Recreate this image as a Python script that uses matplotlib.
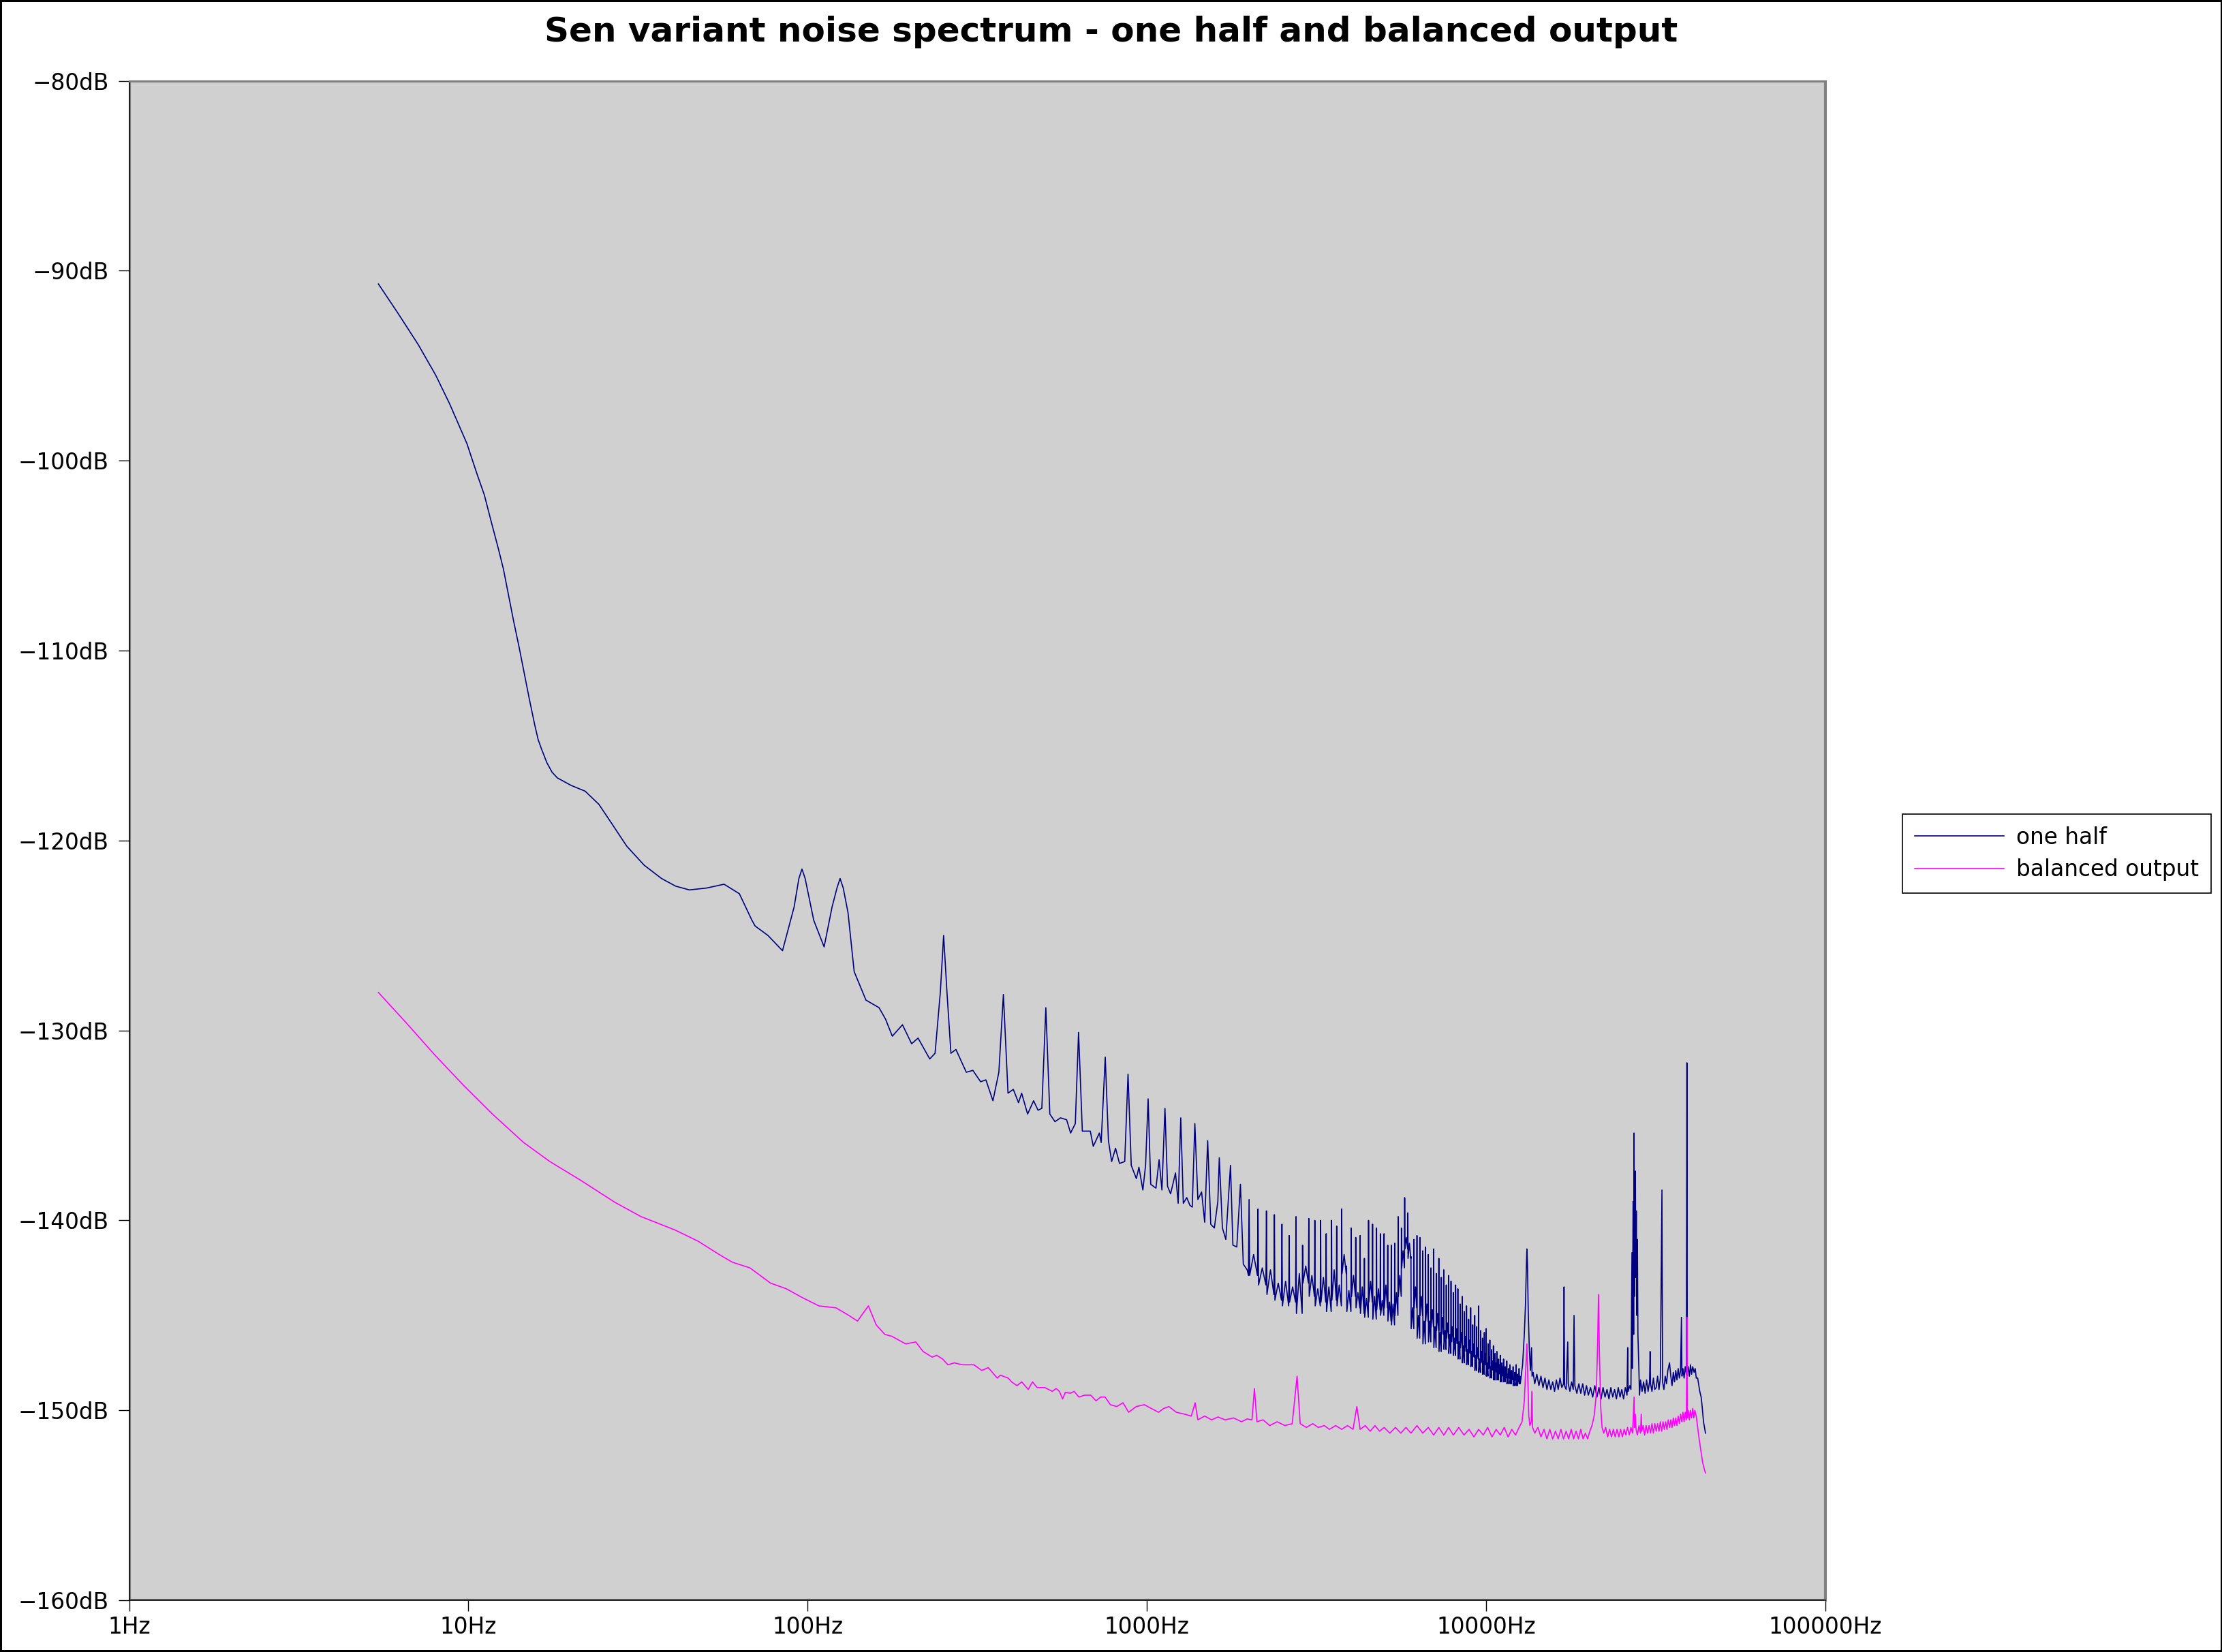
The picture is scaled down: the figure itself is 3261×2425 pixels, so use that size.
import matplotlib
matplotlib.use("Agg")
import matplotlib.pyplot as plt
from matplotlib.patches import Rectangle
from matplotlib.ticker import FixedLocator, NullLocator

# ---- one half: low part (Hz, dB)
half_low_f = [5.43, 6.18, 7.12, 8.01, 8.80, 9.90, 10.6, 11.14, 11.67, 12.24, 12.68, 13.14, 13.61, 14.1,
              14.61, 15.14, 15.68, 16.06, 16.44, 17.03, 17.64, 18.28,
              20.09, 22.08, 24.26, 26.67, 29.3, 32.97, 37.1, 40.8, 44.8, 50.4, 56.7, 62.9, 68.5, 70.0,
              76.4, 84.3, 91.2, 94.2, 96.2, 98.3, 104.2, 111.8, 118.0, 122.0, 124.6, 127.3, 131.5,
              137.1, 148.5, 162.3, 169.6,
              177.6, 190.3, 202.5, 211.5, 229, 237.4, 246, 251.6, 257.4, 264.4, 273.5, 293.5, 306.7,
              323.5, 335.2, 351.6, 366, 377.5, 389.5, 403.7, 418.3, 427.2, 444.9, 463.4, 477.5, 490,
              503.5, 517.3, 535.8, 556, 579.7, 595.7, 615, 628.7, 645, 680.8, 694.7, 724, 733, 753.5,
              770, 787, 808, 830, 860, 879.5, 898.9, 930.6, 947, 972.7, 990.8, 1008, 1026, 1063, 1086,
              1107, 1130, 1150, 1174, 1214, 1236, 1258, 1280, 1310, 1338, 1360, 1384, 1413, 1449, 1480,
              1510, 1542, 1580, 1618, 1634, 1669, 1708, 1763, 1792, 1840, 1886, 1923, 1974]
half_low_db = [-90.7, -92.2, -93.9, -95.5, -97.0, -99.1, -100.7, -101.8, -103.2, -104.6, -105.7,
               -107.1, -108.5, -109.8, -111.2, -112.6, -113.9, -114.7, -115.2, -115.9, -116.4, -116.7,
               -117.1, -117.4, -118.1, -119.2, -120.3, -121.3, -122.0, -122.4, -122.6,
               -122.5, -122.3, -122.8, -124.2, -124.5, -125.0, -125.8, -123.5, -122.0, -121.5, -122.0,
               -124.2, -125.6, -123.5, -122.5, -122.0, -122.5, -123.8, -126.9, -128.4, -128.8, -129.4,
               -130.3, -129.7, -130.7, -130.4,
               -131.5, -131.2, -128.0, -125.0, -128.0, -131.2, -131.0, -132.2, -132.1, -132.7, -132.6,
               -133.7, -132.2, -128.1, -133.3, -133.1, -133.8, -133.3, -134.4, -133.7, -134.2, -134.1,
               -128.8, -134.4, -134.8, -134.6, -134.7, -135.4, -134.9, -130.1, -135.3, -135.3, -136.1,
               -135.4, -135.9, -131.4, -135.8, -136.9, -136.2, -137.0, -136.9, -132.3, -137.1, -137.8,
               -137.2, -138.4, -137.1, -133.6, -138.1, -138.3, -136.8, -138.4, -134.1, -138.2, -138.6,
               -137.5, -139.1, -134.6, -139.1, -138.8, -139.2, -139.3, -134.9, -138.9, -138.5, -140.1,
               -135.8, -140.2, -140.4, -139.0, -136.7, -140.4, -141.0, -137.1, -141.3, -141.4, -138.1,
               -142.3, -142.6]

# ---- one half: 125 Hz harmonics from 2 kHz to 12.5 kHz
# peak top, floor right after the peak, and the level half way to the next peak
harm_k = list(range(16, 101))
harm_top = [-138.9, -139.4, -139.5, -139.7, -140.2, -140.8, -139.8, -141.3, -139.9, -140.0,
            -140.0, -140.7, -140.0, -140.3, -139.4, -142.4, -140.4, -140.9, -140.8, -142.0,
            -140.0, -140.2, -140.4, -140.7, -140.7, -141.3, -141.3, -141.2, -139.8, -140.4,
            -138.8, -139.6,
            -141.9, -141.0, -140.8, -140.9, -141.6, -141.4, -141.8, -142.5, -141.5, -142.8,
            -142.0, -143.0, -142.6, -143.4, -142.9, -143.2, -143.8, -143.4, -143.6, -144.4,
            -144.0, -144.8, -144.5, -145.2, -144.6, -145.5, -145.0, -145.6, -144.5, -145.8,
            -146.2, -145.9, -145.7, -146.5, -146.3, -146.8, -146.6, -147.0, -146.9, -147.3,
            -147.1, -147.5, -147.3, -147.7, -147.4, -147.8, -147.6, -147.9, -147.7, -148.0,
            -147.6, -148.1, -147.8]
harm_floor = [-142.9, -143.4, -143.9, -144.2, -144.5, -144.3, -144.9, -143.3, -144.0, -144.5,
              -144.3, -144.8, -144.2, -144.5, -142.8, -144.8, -144.0, -144.6, -144.9, -145.1,
              -144.3, -145.2, -144.7, -145.0, -144.6, -145.3, -145.5, -145.0, -144.0, -142.5,
              -141.5, -142.0,
              -145.7, -144.6, -146.2, -145.0, -146.5, -145.3, -146.4, -145.6, -146.7, -145.8,
              -146.9, -146.0, -146.8, -146.2, -147.0, -146.4, -147.1, -146.5, -147.3, -146.7,
              -147.5, -146.9, -147.6, -147.0, -147.7, -147.2, -147.9, -147.3, -148.0, -147.5,
              -148.1, -147.6, -148.2, -147.8, -148.3, -147.9, -148.4, -148.0, -148.4, -148.1,
              -148.5, -148.2, -148.5, -148.3, -148.6, -148.3, -148.6, -148.4, -148.7, -148.4,
              -148.7, -148.5, -148.6]
harm_mid = [-141.8, -142.5, -142.6, -143.3, -143.2, -143.5, -142.8, -142.4, -142.9, -143.6,
            -143.0, -143.5, -142.6, -143.4, -141.8, -143.7, -142.9, -143.8, -143.5, -144.1,
            -143.2, -144.0, -143.6, -144.2, -143.4, -144.3, -144.4, -143.8, -142.9, -141.6,
            -140.9, -141.2,
            -144.6, -143.5, -145.0, -144.0, -145.3, -144.4, -145.3, -144.7, -145.6, -144.9,
            -145.9, -145.1, -145.8, -145.4, -146.0, -145.6, -146.2, -145.7, -146.4, -145.9,
            -146.6, -146.1, -146.8, -146.3, -146.9, -146.5, -147.1, -146.7, -147.3, -146.9,
            -147.4, -147.0, -147.5, -147.2, -147.7, -147.4, -147.8, -147.5, -147.9, -147.6,
            -148.0, -147.7, -148.0, -147.8, -148.1, -147.9, -148.2, -148.0, -148.3, -148.0,
            -148.3, -148.1, -148.2]
harm_base = 125.0
harm_halfwidth = 8.0

# ---- one half: 12.6 kHz to the end
half_high_f = [12600, 12800, 12950, 13050, 13130, 13180, 13230, 13300, 13400, 13500, 13600, 13650,
               13750, 13900, 14100, 14300, 14500, 14700, 14900, 15100, 15300, 15500, 15700, 15900,
               16100, 16300, 16500, 16700, 16900, 16960, 17020, 17200, 17390, 17450, 17650, 17850,
               18050, 18150, 18250, 18500, 18750, 19000, 19250, 19500, 19750, 20000, 20300, 20600,
               20900, 21200, 21500, 21800, 22100, 22400, 22700, 23000, 23300, 23600, 23900, 24200,
               24500, 24800, 25100, 25400, 25700, 26000, 26120, 26200, 26500, 26700, 26890, 26950,
               27100, 27200, 27280, 27350, 27450, 27520, 27600, 27700, 27800, 27900, 28000, 28190,
               28300, 28500, 28800, 29100, 29400, 29700, 30000, 30300, 30410, 30500, 30800, 31100,
               31400, 31700, 32000, 32300, 32600, 32960, 33100, 33400, 33700, 34000, 34300, 34700,
               35000, 35300, 35600, 35900, 36200, 36500, 36800, 37100, 37400, 37620, 37750, 38000,
               38300, 38600, 38900, 39040, 39150, 39400, 39700, 40000, 40300, 40600, 41000, 41300,
               41600, 42000, 42600, 43000, 43300, 43700, 44100, 44290]
half_high_db = [-148.6, -147.6, -146.0, -144.5, -142.5, -141.5, -142.3, -144.8, -146.8, -147.9,
                -146.7, -148.2, -148.0, -148.6, -148.1, -148.7, -148.2, -148.8, -148.3, -148.9,
                -148.4, -148.9, -148.5, -149.0, -148.4, -148.9, -148.3, -148.8, -148.6, -143.5,
                -148.7, -148.9, -146.4, -148.6, -149.0, -148.5, -148.9, -145.0, -148.7, -149.1,
                -148.6, -149.1, -148.6, -149.2, -148.7, -149.2, -148.8, -149.3, -148.7, -149.3,
                -148.8, -149.4, -148.8, -149.3, -148.9, -149.4, -148.8, -149.3, -148.9, -149.4,
                -148.8, -149.3, -148.9, -149.4, -148.8, -149.2, -146.7, -149.0, -148.7, -148.9,
                -141.7, -147.8, -139.0, -146.0, -135.4, -144.0, -138.5, -137.4, -143.0, -139.5,
                -145.0, -141.0, -146.0, -147.9, -149.2, -148.4, -149.0, -148.5, -149.1, -148.4,
                -149.0, -148.5, -146.9, -148.6, -149.0, -148.3, -148.9, -148.8, -148.2, -148.9,
                -148.3, -138.4, -148.5, -148.9, -148.2, -148.6, -147.9, -147.5, -148.2, -148.7,
                -148.0, -148.5, -147.9, -148.4, -147.8, -148.3, -147.9, -145.1, -148.2, -147.8,
                -148.3, -147.7, -148.1, -131.7, -148.0, -147.7, -148.2, -147.6, -148.1, -147.7,
                -148.0, -147.8, -148.3, -148.3, -149.0, -149.3, -149.8, -150.6, -151.0, -151.2]

# ---- balanced output
bal_f = [5.43, 6.56, 7.97, 9.69, 11.77, 14.55, 17.38, 21.48, 27.04, 32.27, 40.6, 47.6, 54.9, 59.96,
         67.6, 77.7, 86.5, 96.1, 107.9, 121.1, 132.2, 140.2, 151, 159.2, 168.8, 177, 194.4, 208.3,
         218.8, 232.8, 240, 250, 259, 270.5, 285.7, 309, 326, 340.6, 362, 370, 390, 399, 414, 427.5,
         446.7, 460, 474.4, 500, 526, 540, 552, 564, 575, 595, 610, 630, 655, 683, 708, 730, 753,
         780, 815, 850, 883, 930, 982, 1030, 1082, 1120, 1161, 1220, 1290, 1351, 1387, 1413, 1480,
         1550, 1620, 1700, 1800, 1900, 1974, 2040, 2074, 2110, 2200, 2300, 2420, 2550, 2680, 2770,
         2830, 2950, 3080, 3200, 3330, 3450, 3600, 3750, 3900, 4050, 4156, 4250, 4400, 4550, 4700,
         4850, 5000, 5200, 5400, 5600, 5800, 6000, 6250, 6500, 6750, 7000, 7250, 7500, 7750, 8000,
         8300, 8600, 8900, 9200, 9500, 9800, 10100, 10400, 10700, 11000, 11300, 11600, 11900,
         12200, 12500, 12750, 12950, 13080, 13180, 13260, 13350, 13450, 13580, 13630, 13700, 13900,
         14200, 14500, 14800, 15100, 15400, 15700, 16000, 16300, 16600, 16900, 17200, 17500, 17800,
         18100, 18400, 18700, 19000, 19300, 19600, 19900, 20200, 20500, 20800, 21100, 21300, 21430,
         21550, 21750, 21950, 22200, 22500, 22800, 23100, 23400, 23700, 24000, 24300, 24600, 24900,
         25200, 25500, 25800, 26100, 26400, 26700, 27000, 27280, 27350, 27500, 27650, 27900, 28200,
         28500, 28640, 28750, 29000, 29300, 29600, 29900, 30200, 30500, 30800, 31100, 31400, 31700,
         32000, 32300, 32600, 32900, 33200, 33500, 33800, 34100, 34400, 34700, 35000, 35300, 35600,
         35900, 36200, 36500, 36800, 37100, 37400, 37700, 38000, 38300, 38600, 38900, 39040, 39150,
         39400, 39700, 40000, 40300, 40600, 40900, 41200, 41600, 42000, 42500, 43000, 43400, 43800,
         44100, 44290]
bal_db = [-128.0, -129.6, -131.3, -132.9, -134.4, -135.9, -136.9, -137.9, -139.05, -139.8, -140.5,
          -141.1, -141.8, -142.2, -142.5, -143.3, -143.6, -144.05, -144.5, -144.6, -145.0, -145.3,
          -144.5, -145.5, -146.0, -146.1, -146.5, -146.4, -146.9, -147.2, -147.1, -147.3, -147.6,
          -147.5, -147.6, -147.6, -147.9, -147.75, -148.3, -148.15, -148.3, -148.5, -148.7, -148.5,
          -148.9, -148.5, -148.8, -148.8, -149.0, -148.85, -149.0, -149.4, -149.05, -149.1, -149.0,
          -149.3, -149.2, -149.2, -149.5, -149.3, -149.3, -149.7, -149.8, -149.6, -150.1, -149.8,
          -149.7, -149.9, -150.1, -149.9, -149.8, -150.1, -150.2, -150.3, -149.6, -150.5, -150.3,
          -150.5, -150.35, -150.5, -150.4, -150.6, -150.45, -150.5, -148.85, -150.6, -150.5, -150.8,
          -150.6, -150.8, -150.7, -148.2, -150.7, -150.9, -150.7, -150.9, -150.8, -151.0, -150.8,
          -151.0, -150.8, -151.0, -149.8, -151.0, -150.8, -151.1, -150.8, -151.1, -150.9, -151.2,
          -150.9, -151.2, -150.9, -151.2, -150.8, -151.2, -150.9, -151.3, -150.9, -151.3, -150.9,
          -151.3, -150.9, -151.3, -151.0, -151.4, -151.0, -151.3, -150.9, -151.4, -151.0, -151.3,
          -150.9, -151.4, -151.0, -151.3, -150.9, -150.6, -149.5, -147.8, -146.5, -148.3, -150.3,
          -150.8, -150.6, -149.0, -150.9, -151.2, -150.9, -151.4, -151.0, -151.5, -151.0, -151.5,
          -151.1, -151.5, -151.0, -151.5, -151.1, -151.5, -151.0, -151.5, -151.1, -151.5, -151.0,
          -151.5, -151.2, -151.5, -151.1, -150.8, -150.3, -149.2, -146.5, -143.9, -146.8, -149.8,
          -150.9, -151.2, -150.9, -151.4, -151.0, -151.4, -151.0, -151.4, -151.0, -151.4, -151.0,
          -151.4, -151.0, -151.3, -150.9, -151.3, -150.9, -151.2, -149.3, -150.9, -150.2, -151.0,
          -151.3, -150.8, -151.2, -150.2, -151.1, -150.8, -151.3, -150.8, -151.2, -150.8, -151.2,
          -150.7, -151.2, -150.7, -151.1, -150.7, -151.1, -150.6, -151.1, -150.6, -151.0, -150.6,
          -151.0, -150.5, -150.9, -150.5, -150.9, -150.4, -150.8, -150.4, -150.8, -150.3, -150.7,
          -150.2, -150.6, -150.1, -150.6, -150.1, -150.5, -145.1, -150.4, -150.0, -150.5, -150.0,
          -150.4, -149.9, -150.4, -150.0, -150.3, -150.9, -151.6, -152.2, -152.7, -153.0, -153.2,
          -153.3]

title = "Sen variant noise spectrum - one half and balanced output"
series_names = ["one half", "balanced output"]
xticks = [1, 10, 100, 1000, 10000, 100000]
xtick_labels = ["1Hz", "10Hz", "100Hz", "1000Hz", "10000Hz", "100000Hz"]
yticks = [-160, -150, -140, -130, -120, -110, -100, -90, -80]
ytick_labels = ["\u2212%ddB" % (-v) for v in yticks]

# put the harmonic peaks into the "one half" line
harm_f, harm_db = [], []
prev = harm_floor[0]
for k, top, fl, mid in zip(harm_k, harm_top, harm_floor, harm_mid):
    f0 = harm_base * k
    harm_f += [f0 - harm_halfwidth, f0, f0 + harm_halfwidth, f0 + harm_base / 2]
    harm_db += [prev, top, fl, mid]
    prev = fl

half_f = half_low_f + harm_f + half_high_f
half_db = half_low_db + harm_db + half_high_db

# figure
fig = plt.figure(figsize=(16.31, 12.125), dpi=200)
fig.patch.set_facecolor("white")
fig.patch.set_edgecolor("black")
fig.patch.set_linewidth(1.5)

ax = fig.add_axes([0.0581, 0.0313, 0.7632, 0.9198])
ax.set_facecolor("#d0d0d0")
ax.set_xscale("log")

ax.plot(half_f, half_db, color="#000080", lw=0.6, label=series_names[0], zorder=3)
ax.plot(bal_f, bal_db, color="#ff00ff", lw=0.6, label=series_names[1], zorder=3)

ax.set_xlim(1, 100000)
ax.set_ylim(-160, -80)
ax.xaxis.set_major_locator(FixedLocator(xticks))
ax.xaxis.set_minor_locator(NullLocator())
ax.set_xticklabels(xtick_labels)
ax.set_yticks(yticks)
ax.set_yticklabels(ytick_labels)
ax.tick_params(axis="both", direction="out", length=5.8, width=0.5, labelsize=11.8, colors="black")
ax.tick_params(axis="x", pad=2.5)
ax.tick_params(axis="y", pad=5)

# gray plot frame, black axis lines on left/bottom
frame = Rectangle((0, 0), 1, 1, transform=ax.transAxes, fill=False,
                  edgecolor="#808080", lw=1.5, zorder=1)
ax.add_patch(frame)
for side in ["top", "right"]:
    ax.spines[side].set_color("#808080")
    ax.spines[side].set_linewidth(1.1)
for side in ["left", "bottom"]:
    ax.spines[side].set_color("black")
    ax.spines[side].set_linewidth(0.6)

leg = ax.legend(loc="center left", bbox_to_anchor=(0.8559, 0.4833), bbox_transform=fig.transFigure,
                frameon=True, fancybox=False, shadow=False, edgecolor="black", framealpha=1,
                fontsize=11.8, handlelength=4.0, handletextpad=0.55, borderpad=0.55,
                labelspacing=0.45, borderaxespad=0)
leg.get_frame().set_linewidth(0.6)

fig.text(0.5, 0.9805, title, ha="center", va="center", fontsize=18, fontweight="bold")

fig.savefig("out.png", dpi=200, facecolor=fig.get_facecolor(), edgecolor=fig.get_edgecolor())
